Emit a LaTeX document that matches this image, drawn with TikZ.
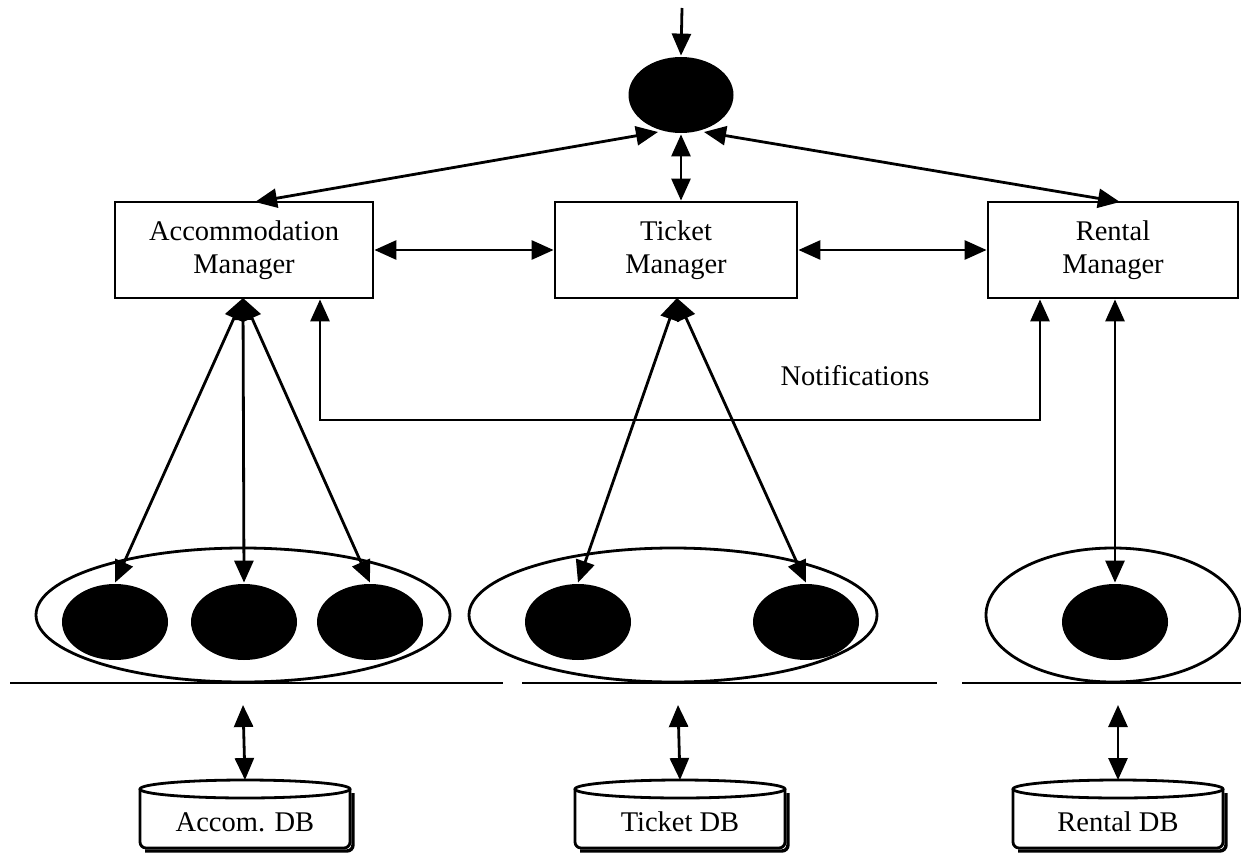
\documentclass[tikz,border=0pt]{standalone}
\usepackage{fontspec}
\setmainfont{Liberation Serif}
\usetikzlibrary{arrows.meta,shapes.geometric}

% database drum: shadow edge, body outline, top lid, then the label
\newcommand\dbdrum[3]{%
  \draw[line width=3.4pt,rounded corners=6pt] (#2+108,793) -- (#2+108,851) -- (#2-100,851);
  \draw[fill=white,rounded corners=6pt] (#2-105,789) -- (#2-105,848) -- (#2+105,848) -- (#2+105,789);
  \draw[fill=white] (#2,789) ellipse [x radius=105, y radius=9];
  \node[dbbody] (#1) at (#2,822) {#3};
  \coordinate (#1-top) at (#2,780);
}

\begin{document}
\begin{tikzpicture}[x=1pt,y=-1pt,line width=2.8pt,
  both/.style={{Triangle[length=22pt,width=19pt]}-{Triangle[length=22pt,width=19pt]}},
  onehead/.style={-{Triangle[length=22pt,width=19pt]}},
  mgr/.style={draw,rectangle,minimum height=96pt,align=center,inner sep=0,
    font=\fontsize{28.5}{33}\selectfont},
  blob/.style={ellipse,fill=black,minimum width=106pt,minimum height=76pt,inner sep=0},
  group/.style={ellipse,draw,minimum height=134pt,inner sep=0},
  dbbody/.style={rectangle,minimum width=200pt,minimum height=46pt,inner sep=0,
    font=\fontsize{28.5}{33}\selectfont},
  lbl/.style={font=\fontsize{28.5}{33}\selectfont}
]
\useasboundingbox (0,0) rectangle (1241,853);

% dispatcher and managers
\node[blob,minimum width=105pt] (hub) at (681,95) {};
\coordinate (in) at (682,8);
\node[mgr,minimum width=258pt] (am) at (244,250) {Accommodation\\Manager};
\node[mgr,minimum width=242pt] (tm) at (676,250) {Ticket\\Manager};
\node[mgr,minimum width=250pt] (rm) at (1113,250) {Rental\\Manager};

\draw[onehead] (in) -- (hub.north);
\coordinate (hubL) at (658,132);
\coordinate (hubR) at (704,132);
\coordinate (amT) at (255,202);
\coordinate (rmT) at (1120,202);
\draw[both] (hubL) -- (amT);
\draw[both] (hubR) -- (rmT);
\draw[both] (hub.south) -- (hub.south |- tm.north);
\draw[both] (am.east) -- (tm.west);
\draw[both] (tm.east) -- (rm.west);

% component groups
\node[group,minimum width=414pt] (g1) at (243,615) {};
\node[group,minimum width=408pt] (g2) at (673,615) {};
\node[group,minimum width=254pt] (g3) at (1113,615) {};
\node[blob] (a1) at (115,622) {};
\node[blob] (a2) at (244,622) {};
\node[blob] (a3) at (370,622) {};
\node[blob] (t1) at (578,622) {};
\node[blob] (t2) at (806,622) {};
\node[blob] (r1) at (1115,622) {};

\draw (10,683) -- (503,683);
\draw (522,683) -- (937,683);
\draw (962,683) -- (1241,683);

% manager to component links
\coordinate (amB) at (243,298);
\draw[both] (amB) -- (a1.north);
\draw[both] (amB) -- (a2.north);
\draw[both] (amB) -- (a3.north);
\coordinate (tmB) at (677,298);
\draw[both] (tmB) -- (t1.north);
\draw[both] (tmB) -- (t2.north);
\draw[both] (r1.north |- rm.south) -- (r1.north);

% notification bus
\coordinate (nl) at (320,420);
\coordinate (nr) at (1040,420);
\draw[both] (nl |- am.south) -- (nl) -- (nr) -- (nr |- rm.south);
\node[lbl] (note) at (855,376) {Notifications};

% databases
\dbdrum{adb}{245}{Accom. DB}
\dbdrum{tdb}{680}{Ticket DB}
\dbdrum{rdb}{1118}{Rental DB}
\coordinate (aup) at (243,705);
\coordinate (tup) at (678,705);
\coordinate (rup) at (1118,705);
\draw[both] (aup) -- (adb-top);
\draw[both] (tup) -- (tdb-top);
\draw[both] (rup) -- (rdb-top);
\end{tikzpicture}
\end{document}
